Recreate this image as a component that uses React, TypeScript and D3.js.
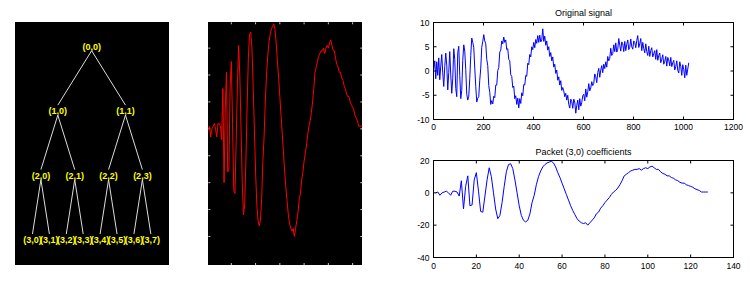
import React from "react";
import * as d3 from "d3";

// ---------- data ----------
// Packet (3,0) coefficients, index 1..128
const coefficients = [
  0, 0.5, -1.5, 0, 0.5, 1, 0, -1.5, 1, 1, 0.5, -2, 7.5, -10, 4, 10.5,
  -8, -7.5, 8, 12.5, 1, -11.5, -12, -2, 8, 15.5, 10, 0, -10, -16, -14, -6,
  4, 13, 17.5, 18, 15, 8, 0, -8, -14, -17, -18, -17, -13, -6, -1.5, 5,
  10, 13.5, 16, 17.5, 18.5, 19, 19.5, 18.5, 16, 12.5, 9.5, 6, 2.5, -1, -4.5, -8,
  -11, -13.5, -16, -17.5, -18.5, -19, -18.5, -20, -18.5, -17, -15.5, -13, -12, -9.5, -8, -6,
  -4.5, -3, -1, 0.5, 1.5, 3, 5, 7.5, 10.5, 11.5, 12.5, 13.5, 14, 14.5, 14.5, 15,
  14, 15, 15.5, 15, 16, 16.5, 15.5, 14.5, 14.5, 13, 12, 11.5, 10.5, 10.5, 9.5, 9,
  8, 7.5, 6.5, 6, 6, 5, 4.5, 4, 3.5, 2.5, 2, 1.5, 0.5, 0.5, 0.5, 0.5,
];

// Original (noisy) signal, read every 4th sample (samples 1..1024)
const signalStep = 4;
const signalValues = [
  0.3, 2.1, -1.6, 1.9, -0.9, 2.7, -1.8, 1.0, 3.4, -0.4, -3.2, 0.9, 3.7, 1.2, -3.9, -0.3,
  4.0, -0.8, -4.6, -1.5, 4.6, 2.4, -3.6, -5.3, 3.8, 5.1, -0.9, -5.7, -4.0, 2.2, 5.4, 4.1,
  0.3, -4.8, -6.0, -5.2, -1.6, 3.2, 6.8, 5.9, 4.9, 0.6, -3.2, -6.4, -5.6, -5.3, -1.9, 0.6,
  4.9, 6.1, 7.5, 6.2, 5.6, 2.4, 1.1, -3.0, -4.4, -6.9, -6.1, -6.8, -5.2, -5.5, -2.9, -2.9,
  0.1, 0.7, 3.9, 4.3, 6.2, 5.6, 7.0, 5.9, 6.4, 4.4, 4.6, 2.4, 2.1, -0.8, -1.1, -3.4,
  -3.1, -5.7, -5.1, -6.9, -5.6, -7.6, -5.7, -6.7, -4.5, -5.1, -2.8, -2.9, -0.9, -1.1, 1.6, 1.3,
  3.4, 2.9, 5.0, 4.4, 5.9, 4.8, 6.5, 5.7, 7.3, 5.9, 7.4, 6.0, 6.4, 8.7, 6.1, 7.2,
  5.3, 6.2, 4.3, 5.0, 3.0, 3.8, 2.1, 2.9, 0.8, 1.4, -0.5, 0.2, -1.9, -1.2, -2.9, -2.0,
  -4.0, -3.4, -4.1, -5.3, -4.6, -6.0, -5.0, -6.9, -7.65, -5.8, -6.3, -7.7, -5.8, -6.4, -8.7, -7.1,
  -6.0, -8.0, -5.7, -7.25, -6.5, -5.1, -4.8, -6.15, -3.7, -5.4, -4.3, -2.6, -4.1, -3.5, -2.2, -3.0,
  -2.55, -0.6, -1.2, -2.4, -0.3, 0.55, -1.3, 0.2, 1.1, -0.35, 1.4, 0.5, 1.9, 0.8, 3.0, 2.1,
  2.6, 4.7, 3.2, 3.6, 5.4, 4.0, 5.8, 3.9, 4.5, 6.7, 5.3, 4.1, 6.0, 5.6, 4.0, 6.1,
  4.2, 5.5, 6.4, 4.4, 4.9, 6.6, 5.0, 4.5, 6.2, 5.9, 4.8, 6.3, 7.3, 4.85, 5.6, 6.7,
  4.2, 5.9, 4.6, 3.75, 5.6, 4.0, 3.2, 5.1, 3.0, 4.2, 4.8, 2.9, 3.6, 4.2, 2.4, 4.4,
  2.2, 3.2, 3.7, 1.7, 2.4, 3.35, 1.4, 2.0, 3.0, 1.0, 2.8, 2.3, 1.05, 2.8, 0.9, 1.7,
  2.2, 0.2, 0.9, 2.1, 0.15, -0.4, 1.9, 1.0, -0.9, 1.3, 0.3, -1.4, 1.2, -0.9, 0.4, 1.7,
];

const signalXTicks = [0, 200, 400, 600, 800, 1000, 1200];
const signalYTicks = [-10, -5, 0, 5, 10];
const coefXTicks = [0, 20, 40, 60, 80, 100, 120, 140];
const coefYTicks = [-40, -20, 0, 20];
const midXTicks = [20, 40, 60, 80, 100, 120];
const midYTicks = [-20, -15, -10, -5, 0, 5, 10, 15];

const treeLevels = [
  ["(0,0)"],
  ["(1,0)", "(1,1)"],
  ["(2,0)", "(2,1)", "(2,2)", "(2,3)"],
  ["(3,0)", "(3,1)", "(3,2)", "(3,3)", "(3,4)", "(3,5)", "(3,6)", "(3,7)"],
];

const FONT = "'Liberation Sans', Arial, sans-serif";

type Node = { name: string; children?: Node[] };
function buildTree(d: number, p: number): Node {
  const n: Node = { name: treeLevels[d][p] };
  if (d + 1 < treeLevels.length) n.children = [buildTree(d + 1, 2 * p), buildTree(d + 1, 2 * p + 1)];
  return n;
}

function Axes({
  box, xDomain, yDomain, xTicks, yTicks, values, xOf, title, titleY, xLabelY,
}: any) {
  const xS = d3.scaleLinear().domain(xDomain).range([box.l, box.r]);
  const yS = d3.scaleLinear().domain(yDomain).range([box.b, box.t]);
  const line = d3.line<number>().x((d, i) => xS(xOf(i))).y((d) => yS(d));
  const tl = 3;
  return (
    <g>
      <text x={(box.l + box.r) / 2} y={titleY} textAnchor="middle" fontFamily={FONT} fontSize={9} fill="#000">
        {title}
      </text>
      <path d={line(values) || ""} fill="none" stroke="#0000ff" strokeWidth={1} />
      <rect x={box.l} y={box.t} width={box.r - box.l} height={box.b - box.t} fill="none" stroke="#000" strokeWidth={1} />
      {xTicks.map((t: number) => (
        <g key={"x" + t}>
          <line x1={xS(t)} x2={xS(t)} y1={box.b} y2={box.b - tl} stroke="#000" />
          <line x1={xS(t)} x2={xS(t)} y1={box.t} y2={box.t + tl} stroke="#000" />
          <text x={xS(t)} y={xLabelY} textAnchor="middle" fontFamily={FONT} fontSize={8.5} fill="#000">
            {t}
          </text>
        </g>
      ))}
      {yTicks.map((t: number) => (
        <g key={"y" + t}>
          <line x1={box.l} x2={box.l + tl} y1={yS(t)} y2={yS(t)} stroke="#000" />
          <line x1={box.r} x2={box.r - tl} y1={yS(t)} y2={yS(t)} stroke="#000" />
          <text x={box.l - 4} y={yS(t) + 3} textAnchor="end" fontFamily={FONT} fontSize={8.5} fill="#000">
            {t}
          </text>
        </g>
      ))}
    </g>
  );
}

export default function App() {
  // tree layout
  const root = d3.hierarchy<Node>(buildTree(0, 0));
  d3.tree<Node>().size([135.3, 193.3]).separation(() => 1)(root);
  const tx = (n: any) => 24 + n.x;
  const ty = (n: any) => 46.7 + n.y;

  // middle panel
  const mid = { l: 208.3, r: 362.3, t: 22.3, b: 265 };
  const mx = d3.scaleLinear().domain([1, 128]).range([mid.l, mid.r]);
  const my = d3.scaleLinear().domain([-25.3, 19.8]).range([mid.b, mid.t]);
  const midLine = d3.line<number>().x((d, i) => mx(i + 1)).y((d) => my(d));

  return (
    <svg width={750} height={288} style={{ position: "absolute", left: 0, top: 0, background: "#fff" }}>
      <rect x={0} y={0} width={750} height={288} fill="#fff" />
      {/* tree panel */}
      <rect x={15} y={22} width={154} height={243} fill="#000" />
      {root.links().map((l: any, i: number) => (
        <line key={i} x1={tx(l.source)} y1={ty(l.source) + 4} x2={tx(l.target)} y2={ty(l.target) - 6}
          stroke="#dcdcdc" strokeWidth={1} />
      ))}
      {root.descendants().map((n: any, i: number) => (
        <text key={i} x={tx(n)} y={ty(n) + 3.3} textAnchor="middle" fontFamily={FONT} fontWeight="bold"
          fontSize={9} fill="#ffff00">
          {n.data.name}
        </text>
      ))}

      {/* middle panel */}
      <rect x={208} y={22} width={154} height={243} fill="#000" />
      {midXTicks.map((t) => (
        <g key={"mx" + t}>
          <line x1={mx(t)} x2={mx(t)} y1={mid.t} y2={mid.t + 2} stroke="#c8c8c8" />
          <line x1={mx(t)} x2={mx(t)} y1={mid.b} y2={mid.b - 2} stroke="#c8c8c8" />
        </g>
      ))}
      {midYTicks.map((t) => (
        <g key={"my" + t}>
          <line x1={mid.l} x2={mid.l + 2} y1={my(t)} y2={my(t)} stroke="#c8c8c8" />
          <line x1={mid.r} x2={mid.r - 2} y1={my(t)} y2={my(t)} stroke="#c8c8c8" />
        </g>
      ))}
      <path d={midLine(coefficients) || ""} fill="none" stroke="#ff0000" strokeWidth={1} />

      {/* right plots */}
      <Axes
        box={{ l: 433.5, r: 733.5, t: 22.5, b: 119.5 }}
        xDomain={[0, 1200]} yDomain={[-10, 10]}
        xTicks={signalXTicks} yTicks={signalYTicks}
        values={signalValues} xOf={(i: number) => i * signalStep + 1}
        title="Original signal" titleY={16} xLabelY={130}
      />
      <Axes
        box={{ l: 433.5, r: 733.5, t: 160.5, b: 257.5 }}
        xDomain={[0, 140]} yDomain={[-40, 20]}
        xTicks={coefXTicks} yTicks={coefYTicks}
        values={coefficients} xOf={(i: number) => i + 1}
        title="Packet (3,0) coefficients" titleY={154.5} xLabelY={268.5}
      />
    </svg>
  );
}
